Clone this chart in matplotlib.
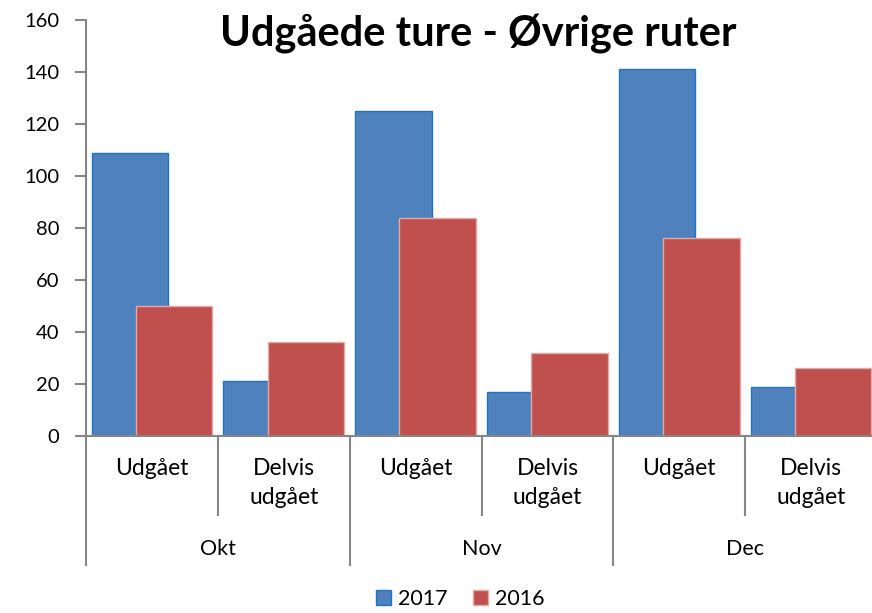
import matplotlib
matplotlib.use("Agg")
import matplotlib.pyplot as plt
import matplotlib.transforms as mtransforms
from matplotlib.patches import Patch

months = ["Okt", "Nov", "Dec"]
subcats = ["Udgået", "Delvis\nudgået"]
series_names = ["2017", "2016"]
values_2017 = [109, 21, 125, 17, 141, 19]
values_2016 = [50, 36, 84, 32, 76, 26]
yticks = [0, 20, 40, 60, 80, 100, 120, 140, 160]

plt.rcParams['font.family'] = ['Lato', 'DejaVu Sans']

W, H = 872, 613
fig = plt.figure(figsize=(W / 100, H / 100), dpi=100)
ax = fig.add_axes([86 / W, 1 - 436 / H, (877 - 86) / W, (436 - 20) / H])

n = len(values_2017)
x = list(range(n))
bw = 0.58
off = 0.168
ax.bar([i - off for i in x], values_2017, width=bw, color="#4F81BD",
       edgecolor="#1F74C8", linewidth=1.0, zorder=2)
ax.bar([i + off for i in x], values_2016, width=bw, color="#C0504D",
       edgecolor="#E8A8A6", linewidth=1.0, zorder=3)

ax.set_xlim(-0.5, n - 0.5)
ax.set_ylim(0, 160)
ax.set_yticks(yticks)
ax.set_yticklabels([str(v) for v in yticks], fontsize=14.5, color="#000000")
ax.set_xticks([])

gray = "#868686"
for s in ["top", "right", "bottom"]:
    ax.spines[s].set_visible(False)
ax.spines["left"].set_color(gray)
ax.spines["left"].set_linewidth(1.5)
ax.tick_params(axis="y", length=8, width=1.5, color=gray, pad=11)

# x axis line (extends slightly left)
tr_x = mtransforms.blended_transform_factory(fig.transFigure, ax.transData)
ax.plot([78 / W, 1.0], [0, 0], transform=tr_x, color=gray, lw=1.5,
        clip_on=False, zorder=4)

# hierarchical category axis
tr = mtransforms.blended_transform_factory(ax.transData, fig.transFigure)
y_top = 1 - 436 / H
y_inner = 1 - 515 / H
y_outer = 1 - 565 / H
for i in range(n):
    b = i - 0.5
    ybot = y_outer if i % 2 == 0 else y_inner
    ax.plot([b, b], [y_top, ybot], transform=tr, color=gray, lw=1.5,
            clip_on=False)

for i in range(n):
    ax.text(i, 1 - 458 / H, subcats[i % 2], transform=tr, ha="center",
            va="top", fontsize=16.5, linespacing=1.5)

for m, name in enumerate(months):
    ax.text(2 * m + 0.5, 1 - 549 / H, name, transform=tr, ha="center",
            va="center", fontsize=15.5)

fig.text(478 / W, 1 - 34 / H, "Udgåede ture - Øvrige ruter", ha="center",
         va="center", fontsize=30, fontweight="bold")

handles = [Patch(facecolor="#4F81BD", edgecolor="#1F74C8"),
           Patch(facecolor="#C0504D", edgecolor="#E8A8A6")]
fig.legend(handles, series_names, loc="center",
           bbox_to_anchor=(460 / W, 1 - 599 / H), ncol=2, frameon=False,
           fontsize=15.5, handlelength=0.7, handleheight=0.7,
           handletextpad=0.3, columnspacing=1.2)

fig.savefig("out.png", dpi=100)
